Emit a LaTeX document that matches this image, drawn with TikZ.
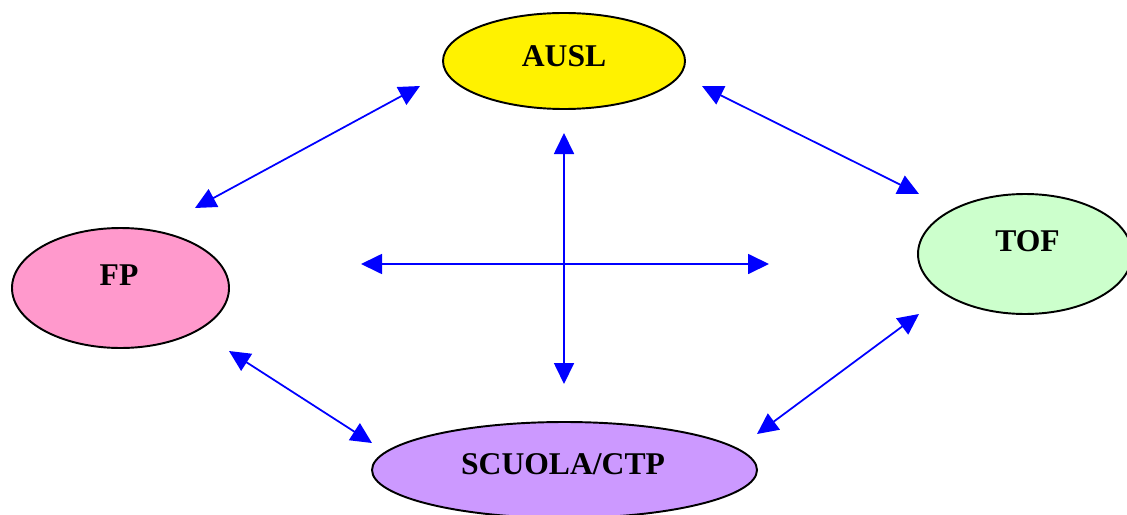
\documentclass[tikz,border=0pt]{standalone}
\usepackage{fontspec}
\setmainfont{Liberation Serif}
\usetikzlibrary{arrows.meta,shapes.geometric}
\definecolor{fppink}{HTML}{FF99CC}
\definecolor{tofgreen}{HTML}{CCFFCC}
\definecolor{ctplilac}{HTML}{CC99FF}

\begin{document}
\begin{tikzpicture}[
        oval/.style={ellipse, draw=black, line width=.55pt, inner sep=0pt},
        lbl/.style={anchor=base, inner sep=0pt, font=\fontsize{9}{10}\selectfont\bfseries},
        link/.style={draw=blue, line width=.5pt,
          {Triangle[length=2.1mm,width=2mm]}-{Triangle[length=2.1mm,width=2mm]}}
        ]
      \useasboundingbox (0,0) rectangle (11.27,-5.14);
      \node [oval, fill=yellow, minimum width=2.42cm, minimum height=.96cm] (ausl) at (5.64,-.61) {};
      \node [oval, fill=fppink, minimum width=2.17cm, minimum height=1.2cm] (fp) at (1.205,-2.88) {};
      \node [oval, fill=tofgreen, minimum width=2.14cm, minimum height=1.2cm] (tof) at (10.25,-2.54) {};
      \node [oval, fill=ctplilac, minimum width=3.85cm, minimum height=.96cm] (ctp) at (5.645,-4.70) {};
      \node [lbl] (ausl-t) at (5.64,-.67) {AUSL};
      \node [lbl] (fp-t) at (1.19,-2.85) {FP};
      \node [lbl] (tof-t) at (10.275,-2.51) {TOF};
      \node [lbl] (ctp-t) at (5.63,-4.74) {SCUOLA/CTP};
      \coordinate (ausl-w) at (4.20,-.86);
      \coordinate (ausl-e) at (7.02,-.86);
      \coordinate (fp-ne) at (1.95,-2.08);
      \coordinate (fp-se) at (2.29,-3.51);
      \coordinate (tof-nw) at (9.19,-1.94);
      \coordinate (tof-sw) at (9.19,-3.14);
      \coordinate (ctp-nw) at (3.72,-4.43);
      \coordinate (ctp-ne) at (7.57,-4.34);
      \coordinate (mid-n) at (5.64,-1.33);
      \coordinate (mid-s) at (5.64,-3.84);
      \coordinate (mid-w) at (3.61,-2.64);
      \coordinate (mid-e) at (7.69,-2.64);
      \draw [link] (ausl-w) -- (fp-ne);
      \draw [link] (ausl-e) -- (tof-nw);
      \draw [link] (fp-se) -- (ctp-nw);
      \draw [link] (tof-sw) -- (ctp-ne);
      \draw [link] (mid-n) -- (mid-s);
      \draw [link] (mid-w) -- (mid-e);
    \end{tikzpicture}
\end{document}
